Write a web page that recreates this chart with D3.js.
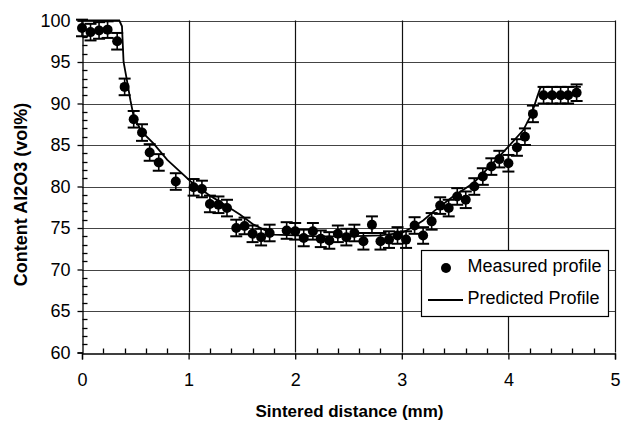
<!DOCTYPE html>
<html>
<head>
<meta charset="utf-8">
<script src="https://cdn.jsdelivr.net/npm/d3@7"></script>
<style>
  html, body { margin: 0; padding: 0; background: #fff; }
  svg { display: block; font-family: "Liberation Sans", Arial, Helvetica, sans-serif; }
</style>
</head>
<body>
<svg id="chart" width="623" height="424"></svg>
<script>
// ---- data ----
const measuredX = [0, 0.08, 0.16, 0.24, 0.33, 0.40, 0.485, 0.563, 0.635, 0.72, 0.88, 1.047, 1.125, 1.20, 1.28, 1.36, 1.447, 1.525, 1.60, 1.68, 1.76, 1.92, 2.0, 2.08, 2.166, 2.24, 2.32, 2.40, 2.48, 2.555, 2.64, 2.72, 2.80, 2.88, 2.96, 3.04, 3.12, 3.20, 3.28, 3.36, 3.44, 3.52, 3.60, 3.68, 3.76, 3.84, 3.915, 4.0, 4.08, 4.155, 4.23, 4.33, 4.41, 4.49, 4.56, 4.64];
const measuredY = [99.1, 98.6, 98.8, 98.9, 97.5, 92.0, 88.1, 86.5, 84.1, 82.9, 80.6, 79.9, 79.7, 77.9, 77.8, 77.4, 75.0, 75.25, 74.3, 73.9, 74.4, 74.7, 74.6, 73.8, 74.6, 73.7, 73.5, 74.3, 73.9, 74.4, 73.4, 75.4, 73.4, 73.6, 74.1, 73.6, 75.3, 74.1, 75.8, 77.7, 77.4, 78.8, 78.4, 80.0, 81.2, 82.4, 83.3, 82.8, 84.7, 86.0, 88.75, 91.0, 91.0, 91.0, 91.0, 91.3];
const measuredErr = 1.0;
const predictedX = [0, 0.35, 0.375, 0.383, 0.39, 0.42, 0.454, 0.485, 0.56, 0.67, 0.80, 0.92, 1.02, 1.2, 1.35, 1.485, 1.61, 1.8, 2.0, 2.2, 2.5, 2.8, 3.0, 3.1, 3.2, 3.3, 3.48, 3.67, 3.84, 4.0, 4.14, 4.22, 4.27, 4.30, 4.32, 4.68];
const predictedY = [100, 100, 99.3, 97, 95, 92.9, 90.4, 88.4, 86.6, 85.2, 83.2, 81.8, 80.6, 78.9, 77.7, 76.6, 75.4, 74.2, 74.1, 74.0, 74.0, 74.1, 74.4, 75.1, 75.9, 77.0, 78.8, 80.4, 82.6, 84.8, 86.8, 88.8, 90.8, 91.9, 92.0, 92.0];
const xTicks = [0, 1, 2, 3, 4, 5];
const yTicks = [60, 65, 70, 75, 80, 85, 90, 95, 100];
const xTitle = "Sintered distance (mm)";
const yTitle = "Content Al2O3 (vol%)";
const legendLabels = ["Measured profile", "Predicted Profile"];

// ---- chart ----
const svg = d3.select("#chart");
const x = d3.scaleLinear().domain([0, 5]).range([82, 615]);
const y = d3.scaleLinear().domain([60, 100]).range([352.5, 20.5]);

// horizontal gridlines
svg.append("g").selectAll("line").data(yTicks.filter(d => d > 60)).join("line")
  .attr("x1", x(0)).attr("x2", x(5))
  .attr("y1", d => Math.round(y(d)) + 0.5).attr("y2", d => Math.round(y(d)) + 0.5)
  .attr("stroke", "#444").attr("stroke-width", 1);
// vertical gridlines
svg.append("g").selectAll("line").data(xTicks.filter(d => d > 0)).join("line")
  .attr("x1", d => Math.round(x(d)) + 0.5).attr("x2", d => Math.round(x(d)) + 0.5)
  .attr("y1", y(100)).attr("y2", y(60))
  .attr("stroke", "#111").attr("stroke-width", 1.2);

// y axis
const yAxis = d3.axisLeft(y).tickValues(yTicks).tickSize(5).tickPadding(7).tickFormat(d3.format("d"));
const gy = svg.append("g").attr("transform", `translate(${Math.round(x(0)) + 0.5},0)`).call(yAxis);
gy.select(".domain").attr("stroke", "#000").attr("stroke-width", 1.3);
gy.selectAll(".tick line").attr("stroke", "#000").attr("stroke-width", 1.3);
gy.selectAll("text").attr("font-size", 18).attr("fill", "#000").attr("font-family", "Liberation Sans, Arial, sans-serif");
// y minor ticks (inside)
svg.append("g").selectAll("line").data(d3.range(61, 100).filter(d => d % 5 !== 0)).join("line")
  .attr("x1", Math.round(x(0)) + 0.5).attr("x2", Math.round(x(0)) + 5.5)
  .attr("y1", d => Math.round(y(d)) + 0.5).attr("y2", d => Math.round(y(d)) + 0.5)
  .attr("stroke", "#000").attr("stroke-width", 1.3);

// x axis
const xAxis = d3.axisBottom(x).tickValues(xTicks).tickSize(6).tickPadding(14).tickFormat(d3.format("d"));
const gx = svg.append("g").attr("transform", `translate(0,${Math.round(y(60)) + 0.5})`).call(xAxis);
gx.select(".domain").attr("stroke", "#000").attr("stroke-width", 1.3);
gx.selectAll(".tick line").attr("stroke", "#000").attr("stroke-width", 1.3);
gx.selectAll("text").attr("font-size", 18).attr("fill", "#000").attr("font-family", "Liberation Sans, Arial, sans-serif");
// x minor ticks (inside)
svg.append("g").selectAll("line").data(d3.range(1, 25).filter(i => i % 5 !== 0).map(i => i * 0.2)).join("line")
  .attr("x1", d => Math.round(x(d)) + 0.5).attr("x2", d => Math.round(x(d)) + 0.5)
  .attr("y1", Math.round(y(60)) + 0.5).attr("y2", Math.round(y(60)) - 4.5)
  .attr("stroke", "#000").attr("stroke-width", 1.3);

// axis titles
svg.append("text").attr("x", (x(0) + x(5)) / 2 + 1).attr("y", 417)
  .attr("text-anchor", "middle").attr("font-size", 17).attr("font-weight", "bold").text(xTitle);
svg.append("text").attr("transform", `translate(27,${(y(60) + y(100)) / 2 + 8}) rotate(-90)`)
  .attr("text-anchor", "middle").attr("font-size", 18).attr("font-weight", "bold").text(yTitle);

// predicted line
const pts = predictedX.map((d, i) => [d, predictedY[i]]);
svg.append("path").datum(pts)
  .attr("d", d3.line().x(d => x(d[0])).y(d => y(d[1])))
  .attr("fill", "none").attr("stroke", "#000").attr("stroke-width", 1.8);

// measured points with error bars
const meas = measuredX.map((d, i) => ({ x: d, y: measuredY[i] }));
const gm = svg.append("g");
const eb = gm.selectAll("g").data(meas).join("g");
eb.append("line").attr("x1", d => x(d.x)).attr("x2", d => x(d.x))
  .attr("y1", d => y(d.y + measuredErr)).attr("y2", d => y(d.y - measuredErr))
  .attr("stroke", "#000").attr("stroke-width", 1.6);
eb.append("line").attr("x1", d => x(d.x) - 6).attr("x2", d => x(d.x) + 6)
  .attr("y1", d => y(d.y + measuredErr)).attr("y2", d => y(d.y + measuredErr))
  .attr("stroke", "#000").attr("stroke-width", 2);
eb.append("line").attr("x1", d => x(d.x) - 6).attr("x2", d => x(d.x) + 6)
  .attr("y1", d => y(d.y - measuredErr)).attr("y2", d => y(d.y - measuredErr))
  .attr("stroke", "#000").attr("stroke-width", 2);
eb.append("circle").attr("cx", d => x(d.x)).attr("cy", d => y(d.y)).attr("r", 5).attr("fill", "#000");

// legend
const lg = svg.append("g");
lg.append("rect").attr("x", 421.5).attr("y", 250.5).attr("width", 187).attr("height", 66)
  .attr("fill", "#fff").attr("stroke", "#000").attr("stroke-width", 1.2);
lg.append("circle").attr("cx", 446).attr("cy", 268).attr("r", 5).attr("fill", "#000");
lg.append("text").attr("x", 467.5).attr("y", 271.5).attr("font-size", 18).text(legendLabels[0]);
lg.append("line").attr("x1", 428).attr("x2", 463).attr("y1", 300).attr("y2", 300)
  .attr("stroke", "#000").attr("stroke-width", 1.8);
lg.append("text").attr("x", 467.5).attr("y", 304).attr("font-size", 18).text(legendLabels[1]);
</script>
</body>
</html>
